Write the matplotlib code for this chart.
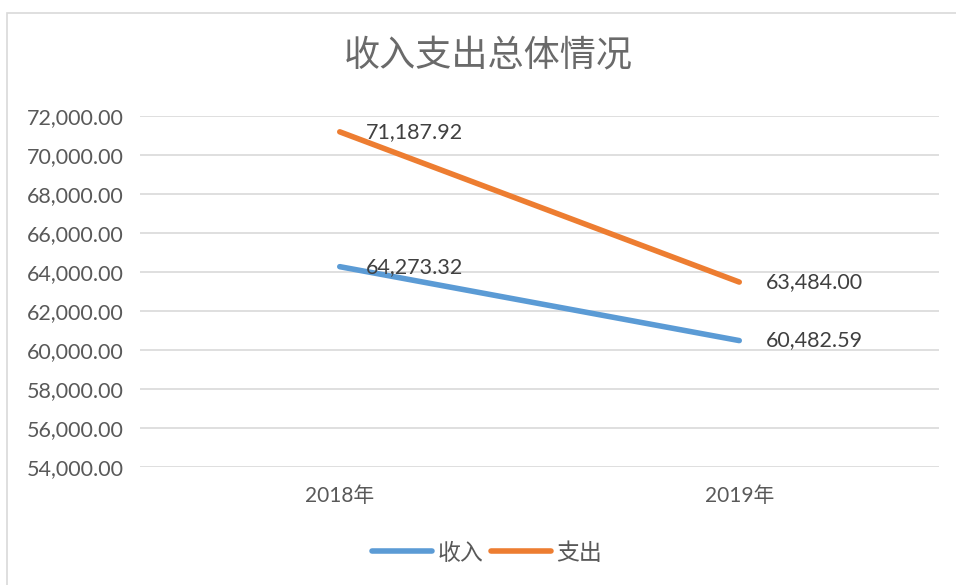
import matplotlib
matplotlib.use("Agg")
import matplotlib.pyplot as plt
from matplotlib.patches import Rectangle
from matplotlib.ticker import FuncFormatter, MultipleLocator

plt.rcParams['font.family'] = ['Lato', 'Noto Sans CJK SC', 'DejaVu Sans']

categories = ['2018年', '2019年']
income = [64273.32, 60482.59]
expense = [71187.92, 63484.00]
series_names = ['收入', '支出']
title = '收入支出总体情况'

W, H = 956, 585
fig = plt.figure(figsize=(W / 100, H / 100), dpi=100)
fig.patch.set_facecolor('white')

# chart border
fig.patches.append(Rectangle((7 / W, -0.1), 1.2, 1 - 13 / H + 0.1, transform=fig.transFigure,
                             fill=False, edgecolor='#D9D9D9', linewidth=1.2, zorder=0))

ax = fig.add_axes([140 / W, 1 - 467 / H, (939 - 140) / W, (467 - 116) / H])
x = list(range(len(categories)))
blue, orange = '#5B9BD5', '#ED7D31'
ax.plot(x, income, color=blue, lw=4, solid_capstyle='round', label=series_names[0], zorder=3)
ax.plot(x, expense, color=orange, lw=4, solid_capstyle='round', label=series_names[1], zorder=3)

for xs, ys in [(x, income), (x, expense)]:
    for xi, yi in zip(xs, ys):
        ax.annotate(f'{yi:,.2f}', (xi, yi), xytext=(19, 0), textcoords='offset points',
                    ha='left', va='center', fontsize=15.5, color='#404040', zorder=4)

ax.set_xlim(-0.5, len(categories) - 0.5)
ax.set_ylim(54000, 72000)
ax.yaxis.set_major_locator(MultipleLocator(2000))
ax.yaxis.set_major_formatter(FuncFormatter(lambda v, p: f'{v:,.2f}'))
ax.set_xticks(x)
ax.set_xticklabels(categories)
ax.grid(axis='y', color='#D9D9D9', lw=1.2)
ax.set_axisbelow(True)
for s in ax.spines.values():
    s.set_visible(False)
ax.tick_params(axis='y', length=0, pad=12, labelsize=15.5, labelcolor='#595959')
ax.tick_params(axis='x', length=0, pad=14, labelsize=15, labelcolor='#595959')

fig.text(488 / W, 1 - 55 / H, title, ha='center', va='center', fontsize=26,
         color='#6A6A6A', family=['Noto Sans CJK SC'], fontweight='light')

leg = fig.legend(loc='center', bbox_to_anchor=(487 / W, 1 - 553 / H), ncol=2, frameon=False,
                 handlelength=2.6, handletextpad=0.25, columnspacing=0.35,
                 prop={'family': ['Noto Sans CJK SC'], 'size': 16.5})
for t in leg.get_texts():
    t.set_color('#595959')

fig.savefig('out.png', dpi=100)
